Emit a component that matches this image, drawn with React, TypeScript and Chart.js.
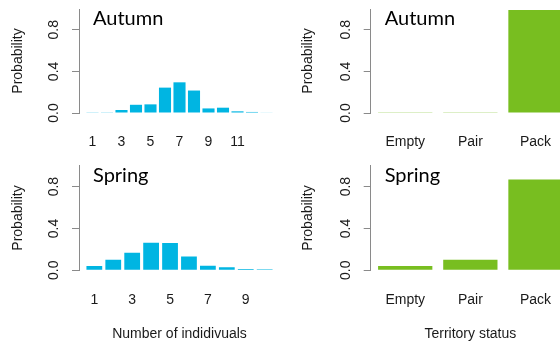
import React, { useEffect, useRef } from "react";
import { Chart, registerables } from "chart.js";

Chart.register(...registerables);

// ---- data ----
const autumnCountCategories = [1, 2, 3, 4, 5, 6, 7, 8, 9, 10, 11, 12, 13];
const autumnCountValues = [0.003, 0.003, 0.029, 0.079, 0.083, 0.244, 0.295, 0.216, 0.044, 0.051, 0.016, 0.01, 0.004];
const autumnCountTickLabels = [1, 3, 5, 7, 9, 11];

const springCountCategories = [1, 2, 3, 4, 5, 6, 7, 8, 9, 10];
const springCountValues = [0.041, 0.1, 0.168, 0.263, 0.26, 0.133, 0.044, 0.029, 0.013, 0.01];
const springCountTickLabels = [1, 3, 5, 7, 9];

const statusCategories = ["Empty", "Pair", "Pack"];
const autumnStatusValues = [0.003, 0.003, 0.99];
const springStatusValues = [0.041, 0.1, 0.867];

const yTickValues = [0, 0.2, 0.4, 0.6, 0.8, 1.0];
const yTickLabels = ["0.0", "", "0.4", "", "0.8", ""];

const BLUE = "#00B5E2";
const GREEN = "#78BE20";
const AXIS = "#8a8a8a";
const TEXT = "#1a1a1a";
const TICK_FONT = { family: "'Liberation Sans', Arial, sans-serif", size: 14 };

const panelLabel = {
  id: "panelLabel",
  afterDraw(chart: any, _args: any, opts: any) {
    const { ctx, chartArea } = chart;
    ctx.save();
    ctx.font = "20px Lato, 'Open Sans', sans-serif";
    ctx.fillStyle = "#000";
    ctx.textBaseline = "alphabetic";
    ctx.textAlign = "left";
    ctx.fillText(opts.text, chartArea.left + 14, chartArea.top + 16);
    ctx.restore();
  },
};

// R barplot style x range (space = 0.2, 4% extension), in units of bar index
function rRange(n: number) {
  const ext = 0.04 * (1.2 * n - 0.2);
  return { min: (0.7 - ext) / 1.2, max: (1.2 * n + 0.5 + ext) / 1.2 };
}

type PanelProps = {
  label: string;
  xs: number[];
  values: number[];
  tickPositions: number[];
  tickText: (v: number) => string;
  color: string;
  width: number;
  height: number;
  left: number;
  top: number;
  axisWidth: number;
  padTop: number;
  xAxisHeight: number;
  yTitlePad: number;
  xTitle?: string;
};

function Panel(p: PanelProps) {
  const ref = useRef<HTMLCanvasElement | null>(null);
  useEffect(() => {
    if (!ref.current) return;
    const { min, max } = rRange(p.xs.length);
    const chart = new Chart(ref.current, {
      type: "bar",
      data: {
        datasets: [
          {
            data: p.xs.map((x, i) => ({ x, y: p.values[i] })),
            backgroundColor: p.color,
            borderWidth: 0,
            barPercentage: 1 / 1.2,
            categoryPercentage: 1,
          },
        ],
      },
      plugins: [panelLabel],
      options: {
        animation: false,
        responsive: false,
        maintainAspectRatio: false,
        layout: { padding: { top: p.padTop, left: 0, right: 0, bottom: 0 } },
        plugins: {
          legend: { display: false },
          tooltip: { enabled: false },
          panelLabel: { text: p.label },
        } as any,
        scales: {
          x: {
            type: "linear",
            offset: false,
            min,
            max,
            afterBuildTicks: (s: any) => {
              s.ticks = p.tickPositions.map((v) => ({ value: v }));
            },
            afterFit: (s: any) => {
              s.height = p.xAxisHeight;
              s.paddingLeft = 0;
              s.paddingRight = 0;
            },
            ticks: {
              autoSkip: false,
              maxRotation: 0,
              minRotation: 0,
              padding: 21,
              font: TICK_FONT,
              color: TEXT,
              callback: (v: any) => p.tickText(Number(v)),
            },
            grid: { display: false, drawTicks: false, offset: false },
            border: { display: false },
            title: p.xTitle
              ? { display: true, text: p.xTitle, font: TICK_FONT, color: TEXT, padding: 0 }
              : { display: false },
          },
          y: {
            type: "linear",
            min: 0,
            max: 1,
            afterBuildTicks: (s: any) => {
              s.ticks = yTickValues.map((v) => ({ value: v }));
            },
            afterFit: (s: any) => {
              s.width = p.axisWidth;
              s.paddingTop = 0;
              s.paddingBottom = 0;
            },
            ticks: {
              minRotation: 90,
              maxRotation: 90,
              crossAlign: "center",
              padding: 8,
              font: TICK_FONT,
              color: TEXT,
              callback: (_v: any, i: number) => yTickLabels[i],
            },
            grid: { drawOnChartArea: false, drawTicks: true, tickLength: 7, color: AXIS, lineWidth: 1 },
            border: { display: true, color: AXIS, width: 1 },
            title: {
              display: true,
              text: "Probability",
              font: TICK_FONT,
              color: TEXT,
              padding: p.yTitlePad,
            },
          },
        },
      } as any,
    });
    return () => chart.destroy();
  }, []);
  return (
    <canvas
      ref={ref}
      width={p.width}
      height={p.height}
      style={{ position: "absolute", left: p.left, top: p.top, width: p.width, height: p.height }}
    />
  );
}

export default function App() {
  const countText = (labels: number[]) => (v: number) => (labels.includes(v) ? String(v) : "");
  const statusText = (v: number) => statusCategories[v - 1] ?? "";
  const statusXs = statusCategories.map((_, i) => i + 1);
  return (
    <div
      style={{
        position: "absolute",
        left: 0,
        top: 0,
        width: 560,
        height: 343,
        overflow: "hidden",
        background: "#fff",
      }}
    >
      <Panel
        label="Autumn"
        xs={autumnCountCategories}
        values={autumnCountValues}
        tickPositions={autumnCountTickLabels}
        tickText={countText(autumnCountTickLabels)}
        color={BLUE}
        width={280}
        height={150}
        left={0}
        top={0}
        axisWidth={79}
        padTop={9}
        xAxisHeight={37}
        yTitlePad={10}
      />
      <Panel
        label="Autumn"
        xs={statusXs}
        values={autumnStatusValues}
        tickPositions={statusXs}
        tickText={statusText}
        color={GREEN}
        width={290}
        height={150}
        left={280}
        top={0}
        axisWidth={90.7}
        padTop={9}
        xAxisHeight={37}
        yTitlePad={20}
      />
      <Panel
        label="Spring"
        xs={springCountCategories}
        values={springCountValues}
        tickPositions={springCountTickLabels}
        tickText={countText(springCountTickLabels)}
        color={BLUE}
        width={280}
        height={193}
        left={0}
        top={150}
        axisWidth={79}
        padTop={15.7}
        xAxisHeight={72.7}
        yTitlePad={10}
        xTitle="Number of indidivuals"
      />
      <Panel
        label="Spring"
        xs={statusXs}
        values={springStatusValues}
        tickPositions={statusXs}
        tickText={statusText}
        color={GREEN}
        width={290}
        height={193}
        left={280}
        top={150}
        axisWidth={90.7}
        padTop={15.7}
        xAxisHeight={72.7}
        yTitlePad={20}
        xTitle="Territory status"
      />
    </div>
  );
}
